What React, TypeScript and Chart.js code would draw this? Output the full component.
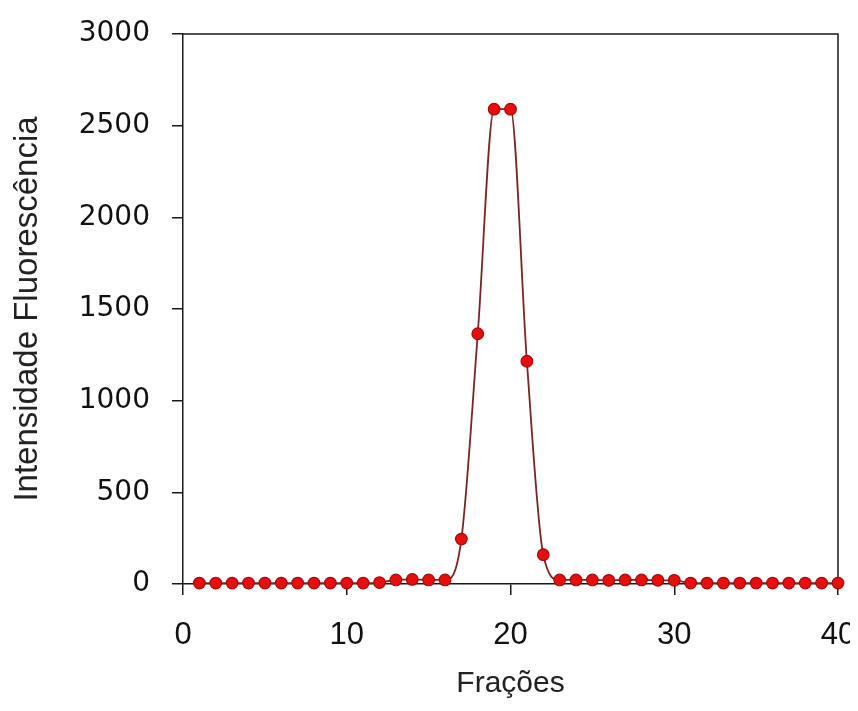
import React, { useEffect, useRef } from "react";
import { Chart, registerables } from "chart.js";

Chart.register(...registerables);

const fractions = [
  1, 2, 3, 4, 5, 6, 7, 8, 9, 10, 11, 12, 13, 14, 15, 16, 17, 18, 19, 20,
  21, 22, 23, 24, 25, 26, 27, 28, 29, 30, 31, 32, 33, 34, 35, 36, 37, 38, 39, 40,
];
const intensity = [
  5, 5, 5, 5, 5, 5, 5, 5, 5, 5, 5, 8, 22, 25, 22, 22, 245, 1365, 2590, 2590,
  1215, 160, 22, 22, 22, 20, 22, 22, 20, 20, 5, 5, 5, 5, 5, 5, 5, 5, 5, 5,
];
const xTickValues = [0, 10, 20, 30, 40];
const yTickValues = [0, 500, 1000, 1500, 2000, 2500, 3000];
const xTitle = "Frações";
const yTitle = "Intensidade Fluorescência";

const AXIS = "#1a1a1a";

const framePlugin = {
  id: "frame",
  beforeDatasetsDraw(chart: any) {
    const { ctx, chartArea } = chart;
    ctx.save();
    ctx.strokeStyle = AXIS;
    ctx.lineWidth = 1.5;
    ctx.beginPath();
    ctx.moveTo(chartArea.left, chartArea.top);
    ctx.lineTo(chartArea.right, chartArea.top);
    ctx.lineTo(chartArea.right, chartArea.bottom);
    ctx.stroke();
    ctx.restore();
  },
};

export default function App() {
  const ref = useRef<HTMLCanvasElement>(null);
  useEffect(() => {
    if (!ref.current) return;
    const chart = new Chart(ref.current, {
      type: "line",
      data: {
        datasets: [
          {
            data: fractions.map((f, i) => ({ x: f, y: intensity[i] })),
            borderColor: "#7a2424",
            borderWidth: 1.8,
            cubicInterpolationMode: "monotone",
            pointRadius: 5.8,
            pointBorderWidth: 1.2,
            pointBackgroundColor: "#e60e0e",
            pointBorderColor: "#a80808",
            clip: false as any,
          },
        ],
      },
      plugins: [framePlugin],
      options: {
        animation: false,
        responsive: false,
        devicePixelRatio: 1,
        layout: { padding: { top: 26, right: 20, left: 0, bottom: 0 } },
        plugins: { legend: { display: false }, tooltip: { enabled: false } },
        scales: {
          x: {
            type: "linear",
            min: 0,
            max: 40,
            afterFit: (s: any) => {
              s.height = 119;
              s.paddingLeft = 0;
              s.paddingRight = 0;
            },
            afterBuildTicks: (s: any) => {
              s.ticks = xTickValues.map((v) => ({ value: v }));
            },
            grid: {
              drawOnChartArea: false,
              drawTicks: true,
              tickLength: 11,
              color: AXIS,
              lineWidth: 1.5,
            },
            border: { display: true, color: AXIS, width: 1.5 },
            ticks: {
              color: "#111",
              padding: 22,
              maxRotation: 0,
              callback: (v: any) => String(v),
              font: { family: "'Liberation Sans', Arial", size: 31 },
            },
            title: {
              display: true,
              text: xTitle,
              color: "#222",
              padding: { top: 0, bottom: 1 },
              font: { family: "'Liberation Sans', Arial", size: 30 },
            },
          },
          y: {
            type: "linear",
            min: 0,
            max: 3000,
            afterFit: (s: any) => {
              s.width = 175;
              s.paddingTop = 0;
              s.paddingBottom = 0;
            },
            afterBuildTicks: (s: any) => {
              s.ticks = yTickValues.map((v) => ({ value: v }));
            },
            grid: {
              drawOnChartArea: false,
              drawTicks: true,
              tickLength: 11,
              color: AXIS,
              lineWidth: 1.5,
            },
            border: { display: true, color: AXIS, width: 1.5 },
            ticks: {
              color: "#111",
              padding: 22,
              callback: (v: any) => String(v),
              font: { family: "'DejaVu Sans', sans-serif", size: 28 },
            },
            title: {
              display: true,
              text: yTitle,
              color: "#222",
              padding: { top: 0, bottom: 0 },
              font: { family: "'Liberation Sans', Arial", size: 33 },
            },
          },
        },
      },
    });
    return () => chart.destroy();
  }, []);
  return <canvas ref={ref} width={850} height={695} style={{ display: "block" }} />;
}
